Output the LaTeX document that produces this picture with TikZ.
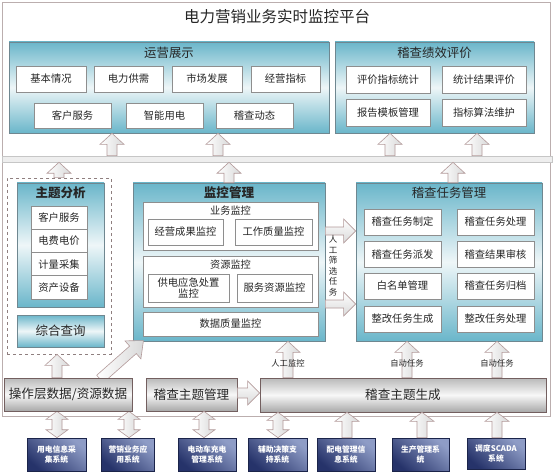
\documentclass[tikz,border=0pt]{standalone}
\usepackage{fontspec}
\setmainfont{Noto Sans CJK SC}
\usetikzlibrary{calc}
\definecolor{panelblue}{HTML}{6AB6CA}
\definecolor{panelmid}{HTML}{EEF6F8}
\definecolor{panelborder}{HTML}{6F8790}
\definecolor{boxborder}{HTML}{8E8E8E}
\definecolor{arrowborder}{HTML}{B39A9A}
\definecolor{barborder}{HTML}{735F5F}
\definecolor{framecol}{HTML}{BBAEAE}
\definecolor{sysdark}{HTML}{26336A}
\definecolor{syslight}{HTML}{8E9CC6}
\definecolor{txt}{HTML}{262626}
\newcommand{\fsz}[1]{\fontsize{#1}{#1}\selectfont}
\tikzset{
  wh/.style 2 args={minimum width=#1pt, minimum height=#2pt},
  panel/.style={draw=panelborder, line width=0.7pt, top color=panelblue, bottom color=panelblue, middle color=panelmid, inner sep=0pt},
  ptitle/.style={text=txt, font=\fsz{12.4}, inner sep=0pt},
  wbox/.style={draw=boxborder, fill=white, line width=0.6pt, text=txt, font=\fsz{10.3}, inner sep=0pt, align=center},
  subhead/.style={text=txt, font=\fsz{10.2}, inner sep=0pt},
  bar/.style={draw=barborder, line width=0.7pt, top color=gray!55, bottom color=gray!68, middle color=gray!6, text=txt, font=\fsz{12.6}, inner sep=0pt},
  sys/.style={draw=sysdark!70!black, line width=0.6pt, top color=syslight, bottom color=sysdark, shading angle=-40, text=white, font=\bfseries\fontsize{7.8}{10}\selectfont, align=center, inner sep=0pt},
  blk/.style={draw=arrowborder, line width=0.6pt, left color=white, right color=gray!30},
  blkh/.style={draw=arrowborder, line width=0.6pt, top color=white, bottom color=gray!30},
  albl/.style={text=txt, font=\fsz{8.3}, inner sep=0pt},
}
% up block arrow: x (px), tail node (below), tip node (above)
\newcommand{\blkup}[3]{%
  \path[blk] let \p1=(#2.north), \p2=(#3.south) in
    ({#1pt-5pt},\y1) -- ({#1pt-5pt},{\y2-11pt}) -- ({#1pt-12pt},{\y2-11pt}) -- ({#1pt},\y2)
    -- ({#1pt+12pt},{\y2-11pt}) -- ({#1pt+5pt},{\y2-11pt}) -- ({#1pt+5pt},\y1) -- cycle;}
% short up block arrow (systems)
\newcommand{\blkups}[3]{%
  \path[blk] let \p1=(#2.north), \p2=(#3.south) in
    ({#1pt-5pt},\y1) -- ({#1pt-5pt},{\y2-9pt}) -- ({#1pt-12pt},{\y2-9pt}) -- ({#1pt},\y2)
    -- ({#1pt+12pt},{\y2-9pt}) -- ({#1pt+5pt},{\y2-9pt}) -- ({#1pt+5pt},\y1) -- cycle;}
% double block arrow: x, lower node, upper node
\newcommand{\blkdbl}[3]{%
  \path[blk] let \p1=(#2.north), \p2=(#3.south) in
    ({#1pt},\y2) -- ({#1pt+11pt},{\y2-8pt}) -- ({#1pt+5pt},{\y2-8pt}) -- ({#1pt+5pt},{\y1+8pt})
    -- ({#1pt+11pt},{\y1+8pt}) -- ({#1pt},\y1) -- ({#1pt-11pt},{\y1+8pt}) -- ({#1pt-5pt},{\y1+8pt})
    -- ({#1pt-5pt},{\y2-8pt}) -- ({#1pt-11pt},{\y2-8pt}) -- cycle;}
% right block arrow: y (px), from node, to node, shaft half height
\newcommand{\blkright}[4]{%
  \path[blkh] let \p1=(#2.east), \p2=(#3.west) in
    (\x1,{-#1pt+#4pt}) -- ({\x2-12pt},{-#1pt+#4pt}) -- ({\x2-12pt},{-#1pt+12pt}) -- (\x2,{-#1pt})
    -- ({\x2-12pt},{-#1pt-12pt}) -- ({\x2-12pt},{-#1pt-#4pt}) -- (\x1,{-#1pt-#4pt}) -- cycle;}
\begin{document}
\begin{tikzpicture}[x=1pt,y=-1pt]
\useasboundingbox (0,0) rectangle (554,473);
\fill[white] (0,0) rectangle (554,473);
% outer frame
\draw[framecol, line width=0.8pt] (2,2) rectangle (550,416);
% title
\node[text=txt, font=\fsz{15.5}, inner sep=0pt] (title) at (277,17) {电力营销业务实时监控平台};

% ---------- top panels ----------
\node[panel, wh={320}{91}] (yyzs) at (169,87.5) {};
\node[ptitle] (yyzsT) at (169,53) {运营展示};
\node[wbox, wh={70}{26}] (b1) at (51,79) {基本情况};
\node[wbox, wh={69}{26}] (b2) at (128.5,79) {电力供需};
\node[wbox, wh={70}{26}] (b3) at (207,79) {市场发展};
\node[wbox, wh={69}{26}] (b4) at (285.5,79) {经营指标};
\node[wbox, wh={77}{25}] (b5) at (72.5,115.5) {客户服务};
\node[wbox, wh={77}{25}] (b6) at (164.5,115.5) {智能用电};
\node[wbox, wh={77}{25}] (b7) at (254.5,115.5) {稽查动态};

\node[panel, wh={199}{91}] (jxpj) at (434.5,87.5) {};
\node[ptitle] (jxpjT) at (434.5,53) {稽查绩效评价};
\node[wbox, wh={84}{27}] (c1) at (388,79.5) {评价指标统计};
\node[wbox, wh={84}{27}] (c2) at (484,79.5) {统计结果评价};
\node[wbox, wh={84}{27}] (c3) at (388,112.5) {报告模板管理};
\node[wbox, wh={84}{27}] (c4) at (484,112.5) {指标算法维护};

% ---------- band ----------
\node[draw=gray!45, fill=gray!13, line width=0.6pt, wh={550}{6}, inner sep=0pt] (band) at (277,159) {};

% ---------- middle ----------
\node[draw=barborder!80, dashed, line width=0.8pt, wh={104}{176}, inner sep=0pt] (dbox) at (59,266) {};
\node[panel, wh={87}{124}] (ztfx) at (60.5,245) {};
\node[ptitle, font=\bfseries\fsz{12.5}] (ztfxT) at (60.5,193) {主题分析};
\node[wbox, wh={56}{23.25}] (l1) at (59,217.6) {客户服务};
\node[wbox, wh={56}{23.25}] (l2) at (59,240.9) {电费电价};
\node[wbox, wh={56}{23.25}] (l3) at (59,264.1) {计量采集};
\node[wbox, wh={56}{23.25}] (l4) at (59,287.4) {资产设备};
\node[panel, wh={87}{32}, text=txt, font=\fsz{12.5}] (zhcx) at (60.5,331) {综合查询};

\node[panel, wh={192}{158}] (jkgl) at (229,262) {};
\node[ptitle, font=\bfseries\fsz{12.6}] (jkglT) at (229,193) {监控管理};
\node[wbox, wh={175}{48}] (ywjk) at (230.5,226) {};
\node[subhead] (ywjkT) at (230.5,211) {业务监控};
\node[wbox, wh={75}{26}] (e1) at (185.5,232) {经营成果监控};
\node[wbox, wh={77}{26}] (e2) at (273.5,232) {工作质量监控};
\node[wbox, wh={175}{51}] (zyjk) at (230.5,281.5) {};
\node[subhead] (zyjkT) at (230.5,265) {资源监控};
\node[wbox, wh={81}{28}, font=\fontsize{10.3}{11.5}\selectfont] (e3) at (188.5,288) {供电应急处置\\监控};
\node[wbox, wh={75}{28}] (e4) at (274.5,288) {服务资源监控};
\node[wbox, wh={175}{24}] (e5) at (230.5,324) {数据质量监控};

\node[panel, wh={186}{158}] (jcrw) at (449,262) {};
\node[ptitle] (jcrwT) at (449,193) {稽查任务管理};
\node[wbox, wh={77}{26}] (g1) at (402.5,222) {稽查任务制定};
\node[wbox, wh={77}{26}] (g2) at (495.5,222) {稽查任务处理};
\node[wbox, wh={77}{26}] (g3) at (402.5,254.5) {稽查任务派发};
\node[wbox, wh={77}{26}] (g4) at (495.5,254.5) {稽查结果审核};
\node[wbox, wh={77}{26}] (g5) at (402.5,286) {白名单管理};
\node[wbox, wh={77}{26}] (g6) at (495.5,286) {稽查任务归档};
\node[wbox, wh={77}{26}] (g7) at (402.5,319) {整改任务生成};
\node[wbox, wh={77}{26}] (g8) at (495.5,319) {整改任务处理};

% ---------- bottom bars ----------
\node[bar, wh={128}{33}] (opbar) at (68,394.5) {操作层数据/资源数据};
\node[bar, wh={91}{33}] (ztgl) at (191.5,394.5) {稽查主题管理};
\node[bar, wh={286}{34}] (scgen) at (403,395) {稽查主题生成};

% ---------- systems ----------
\node[sys, wh={59}{33}] (s1) at (56.5,454.5) {用电信息采\\集系统};
\node[sys, wh={53}{33}] (s2) at (128,454.5) {营销业务应\\用系统};
\node[sys, wh={58}{33}] (s3) at (207,454.5) {电动车充电\\管理系统};
\node[sys, wh={59}{33}] (s4) at (277.5,454.5) {辅助决策支\\持系统};
\node[sys, wh={58}{33}] (s5) at (346,454.5) {配电管理信\\息系统};
\node[sys, wh={57}{33}] (s6) at (420.5,454.5) {生产管理系\\统};
\node[sys, wh={58}{31}] (s7) at (496,453.5) {调度SCADA\\系统};

% ---------- block arrows ----------
\blkup{112}{band}{yyzs}
\blkup{218}{band}{yyzs}
\blkup{390}{band}{jxpj}
\blkup{477}{band}{jxpj}
\blkup{59}{dbox}{band}
\blkup{229}{jkgl}{band}
\blkup{453}{jcrw}{band}
\blkup{57}{opbar}{dbox}
\blkup{288}{scgen}{jkgl}
\blkup{407}{scgen}{jcrw}
\blkup{497}{scgen}{jcrw}
\blkups{347}{s5}{scgen}
\blkups{422}{s6}{scgen}
\blkups{497}{s7}{scgen}
\blkdbl{57}{s1}{opbar}
\blkdbl{129}{s2}{opbar}
\blkdbl{204}{s3}{ztgl}
\blkdbl{278}{s4}{scgen}
\blkright{393}{ztgl}{scgen}{5}
\blkright{231}{jkgl}{jcrw}{4}
\blkright{304}{jkgl}{jcrw}{4}
% diagonal arrow from opbar to jkgl
\coordinate (dstart) at (100,379);
\begin{scope}[shift={(dstart)}, rotate=41.5]
  \path[blk] (0,-5) -- (44,-5) -- (44,-12) -- (58,0) -- (44,12) -- (44,5) -- (0,5) -- cycle;
\end{scope}
% redraw bar over arrow tails
\node[bar, wh={128}{33}] at (opbar) {操作层数据/资源数据};

% ---------- labels ----------
\node[albl] (lbl1) at (288,363) {人工监控};
\node[albl] (lbl2) at (407,363) {自动任务};
\node[albl] (lbl3) at (497,363) {自动任务};
\node[text=txt, font=\fontsize{8.5}{10.5}\selectfont, align=center, inner sep=0pt] (vtxt) at (333,266) {人\\工\\筛\\选\\任\\务};
\end{tikzpicture}
\end{document}
